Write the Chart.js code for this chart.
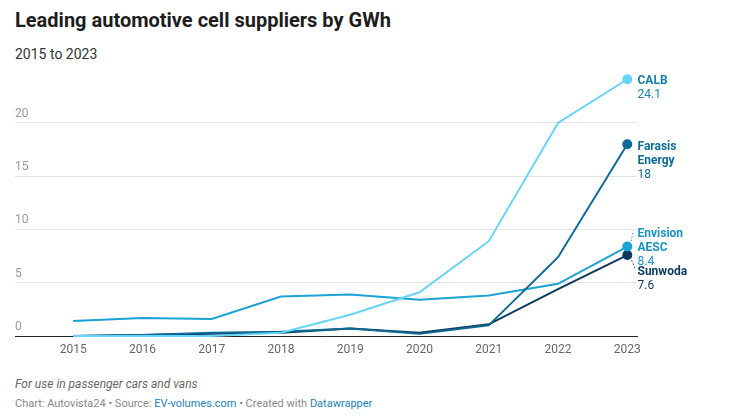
<!DOCTYPE html>
<html>
<head>
<meta charset="utf-8">
<script src="https://cdn.jsdelivr.net/npm/chart.js@4"></script>
<style>
  body { margin: 0; background: #fff; font-family: Roboto, sans-serif; }
  .wrap { position: relative; width: 733px; height: 418px; overflow: hidden; }
  h1 { position: absolute; left: 15px; top: 8px; margin: 0; font-size: 20px; font-weight: 700; color: #1d1d1d; line-height: 24px; }
  .sub { position: absolute; left: 15px; top: 45px; font-size: 14px; color: #333; line-height: 18px; }
  .box { position: absolute; left: 0; top: 60px; width: 733px; height: 310px; }
  .note { position: absolute; left: 15px; top: 377px; font-size: 12px; font-style: italic; color: #666; line-height: 15px; }
  .src { position: absolute; left: 15px; top: 397px; font-size: 11px; color: #888; line-height: 14px; }
  .src a { color: #1d81b5; text-decoration: none; }
</style>
</head>
<body>
<div class="wrap">
  <h1>Leading automotive cell suppliers by GWh</h1>
  <div class="sub">2015 to 2023</div>
  <div class="box"><canvas id="myChart"></canvas></div>
  <div class="note">For use in passenger cars and vans</div>
  <div class="src">Chart: Autovista24 • Source: <a>EV-volumes.com</a> • Created with <a>Datawrapper</a></div>
</div>
<script>
const years = [2015, 2016, 2017, 2018, 2019, 2020, 2021, 2022, 2023];
const calb = [0, 0, 0, 0.3, 2.0, 4.1, 8.9, 20.0, 24.1];
const farasis = [0, 0.1, 0.3, 0.4, 0.7, 0.2, 1.0, 7.4, 18];
const envision = [1.4, 1.7, 1.6, 3.7, 3.9, 3.4, 3.8, 4.9, 8.4];
const sunwoda = [0, 0.1, 0.2, 0.3, 0.7, 0.3, 1.1, 4.4, 7.6];
const yTicks = [0, 5, 10, 15, 20];

// end labels: name lines, colour, vertical shift of first line from point
const endLabels = [
  { name: ["CALB"], color: "#1782a9", dy: 2 },
  { name: ["Farasis", "Energy"], color: "#0e6a94", dy: 3 },
  { name: ["Envision", "AESC"], color: "#1a92c4", dy: -13, lead: [[3, -2], [6, -15]] },
  { name: ["Sunwoda"], color: "#0b3a5e", dy: 17, lead: [[3, 2], [8, 14]] },
];

function toPts(vals) {
  return vals.map((v, i) => ({ x: years[i], y: v }));
}
const last = years.length - 1;
function mkSet(label, vals, color) {
  return {
    label: label,
    data: toPts(vals),
    borderColor: color,
    backgroundColor: color,
    borderWidth: 2,
    pointRadius: (c) => (c.dataIndex === last ? 4 : 0),
    pointHoverRadius: 4,
    tension: 0,
    clip: false,
  };
}

const labelPlugin = {
  id: "endLabels",
  afterDatasetsDraw(chart) {
    const ctx = chart.ctx;
    const x = chart.chartArea.right + 0.5;
    chart.data.datasets.forEach((ds, i) => {
      const pt = chart.getDatasetMeta(i).data[last];
      const lb = endLabels[i];
      ctx.save();
      if (lb.lead) {
        ctx.strokeStyle = lb.color;
        ctx.lineWidth = 1;
        ctx.setLineDash([1.5, 2]);
        ctx.beginPath();
        ctx.moveTo(pt.x + lb.lead[0][0], pt.y + lb.lead[0][1]);
        ctx.lineTo(pt.x + lb.lead[1][0], pt.y + lb.lead[1][1]);
        ctx.stroke();
        ctx.setLineDash([]);
      }
      ctx.fillStyle = lb.color;
      ctx.textBaseline = "middle";
      ctx.textAlign = "left";
      let y = pt.y + lb.dy;
      ctx.font = "bold 12px Roboto";
      lb.name.forEach((t) => {
        ctx.fillText(t, x, y);
        y += 14;
      });
      ctx.font = "12px Roboto";
      ctx.fillText(String(ds.data[last].y), x, y);
      ctx.restore();
    });
  },
};

new Chart(document.getElementById("myChart"), {
  type: "line",
  data: {
    datasets: [
      mkSet("CALB", calb, "#66d4f9"),
      mkSet("Farasis Energy", farasis, "#0e6a94"),
      mkSet("Envision AESC", envision, "#1ba3d3"),
      mkSet("Sunwoda", sunwoda, "#0b3a5e"),
    ],
  },
  options: {
    responsive: true,
    maintainAspectRatio: false,
    animation: false,
    layout: { padding: { left: 15, right: 96, top: 15, bottom: 5.6 } },
    plugins: { legend: { display: false }, tooltip: { enabled: false } },
    scales: {
      x: {
        type: "linear",
        min: 2014.16,
        max: 2023.14,
        afterBuildTicks: (axis) => { axis.ticks = years.map((v) => ({ value: v })); },
        grid: { display: false, drawTicks: false },
        border: { color: "#222", width: 1 },
        ticks: { color: "#666", font: { family: "Roboto", size: 12 }, padding: 7, callback: (v) => String(v), maxRotation: 0 },
      },
      y: {
        min: 0,
        max: 24.5,
        afterBuildTicks: (axis) => { axis.ticks = yTicks.map((v) => ({ value: v })); },
        grid: { color: "#e2e2e2", drawTicks: false },
        border: { display: false },
        ticks: { mirror: true, padding: 0, labelOffset: -9, color: "#9a9a9a", font: { family: "Roboto", size: 12 } },
      },
    },
  },
  plugins: [labelPlugin],
});
</script>
</body>
</html>
